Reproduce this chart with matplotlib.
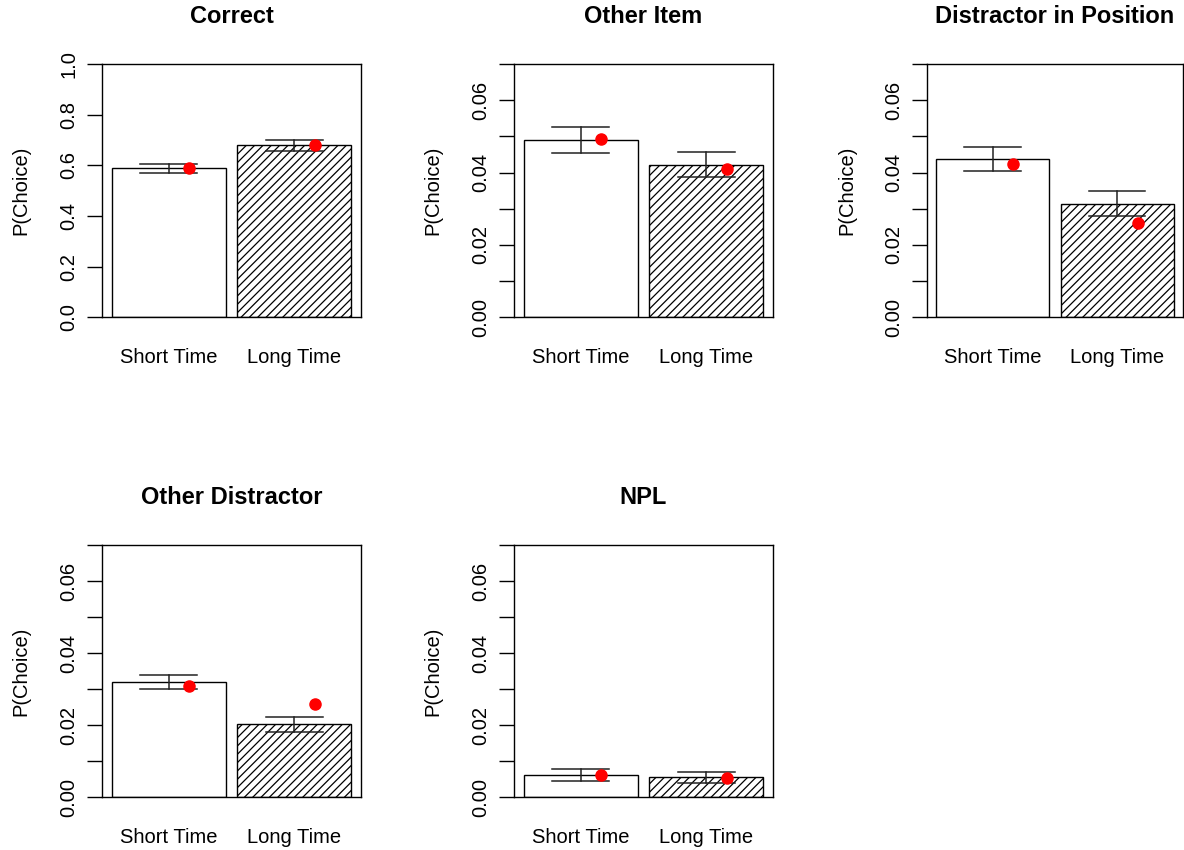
import numpy as np
from matplotlib import pyplot as plt
from matplotlib.ticker import FixedLocator

plt.rcParams['font.family'] = ['Liberation Sans', 'DejaVu Sans']
plt.rcParams['hatch.linewidth'] = 0.9

titles = ["Correct", "Other Item", "Distractor in Position", "Other Distractor", "NPL"]
conditions = ["Short Time", "Long Time"]

# observed proportions (bar heights) and their standard errors
obs_short = [0.589, 0.0490, 0.0438, 0.0319, 0.0062]
obs_long = [0.679, 0.0422, 0.0314, 0.0202, 0.0055]
se_short = [0.018, 0.0035, 0.0034, 0.0019, 0.0016]
se_long = [0.021, 0.0035, 0.0035, 0.0020, 0.0015]

# model predictions (red points)
pred_short = [0.589, 0.0494, 0.0425, 0.0310, 0.0062]
pred_long = [0.680, 0.0410, 0.0261, 0.0260, 0.0053]

ymax = [1.0, 0.07, 0.07, 0.07, 0.07]

W, H = 1184, 850
fig = plt.figure(figsize=(W / 100, H / 100), dpi=100)

# panel boxes in pixels: left, top, width, height
boxes = [(102, 64, 259, 253.3), (514, 64, 259, 253.3), (926.7, 64, 256.5, 253.3),
         (102, 545, 259, 252.3), (514, 545, 259, 252.3)]

space = 0.1
lefts = np.array([space, 2 * space + 1])
mids = lefts + 0.5
pad_x = 0.04 * (lefts[-1] + 1 - lefts[0])

for i, (l, t, w, h) in enumerate(boxes):
    ax = fig.add_axes([l / W, 1 - (t + h) / H, w / W, h / H])
    heights = [obs_short[i], obs_long[i]]
    errs = [se_short[i], se_long[i]]
    preds = [pred_short[i], pred_long[i]]

    ax.bar(mids[0], heights[0], width=1, color="white", edgecolor="black", linewidth=1)
    ax.bar(mids[1], heights[1], width=1, color="white", edgecolor="black", linewidth=1,
           hatch="////")

    for x, y, e in zip(mids, heights, errs):
        ax.plot([x, x], [y - e, y + e], color="#222222", lw=1.1)
        ax.plot([x - 0.25, x + 0.25], [y + e, y + e], color="#222222", lw=1.1)
        ax.plot([x - 0.25, x + 0.25], [y - e, y - e], color="#222222", lw=1.1)

    ax.plot(mids + 0.18, preds, "o", color="red", markersize=8, zorder=5)

    ax.set_xlim(lefts[0] - pad_x, lefts[-1] + 1 + pad_x)
    ax.set_ylim(0, ymax[i])
    ax.set_xticks(mids)
    ax.set_xticklabels(conditions, fontsize=14.5)
    ax.tick_params(axis="x", length=0, pad=22)

    if ymax[i] == 1.0:
        major = np.arange(0, 1.01, 0.2)
        ax.set_yticks(major)
        ax.set_yticklabels(["%.1f" % v for v in major])
    else:
        major = np.arange(0, 0.061, 0.02)
        ax.set_yticks(major)
        ax.set_yticklabels(["%.2f" % v for v in major])
        ax.yaxis.set_minor_locator(FixedLocator(np.arange(0.01, 0.071, 0.02)))
    ax.tick_params(axis="y", which="both", length=11, width=1, labelsize=14.5,
                   labelrotation=90, pad=6)
    for lab in ax.get_yticklabels():
        lab.set_va("center")

    for s in ax.spines.values():
        s.set_linewidth(1)
    ax.set_ylabel("P(Choice)", fontsize=14.5)
    ax.yaxis.set_label_coords(-0.275, 0.5)
    ax.text(0.5, 1 + 47 / h, titles[i], transform=ax.transAxes, ha="center", va="center",
            fontsize=17, fontweight="bold")

fig.savefig("out.png", dpi=100)
